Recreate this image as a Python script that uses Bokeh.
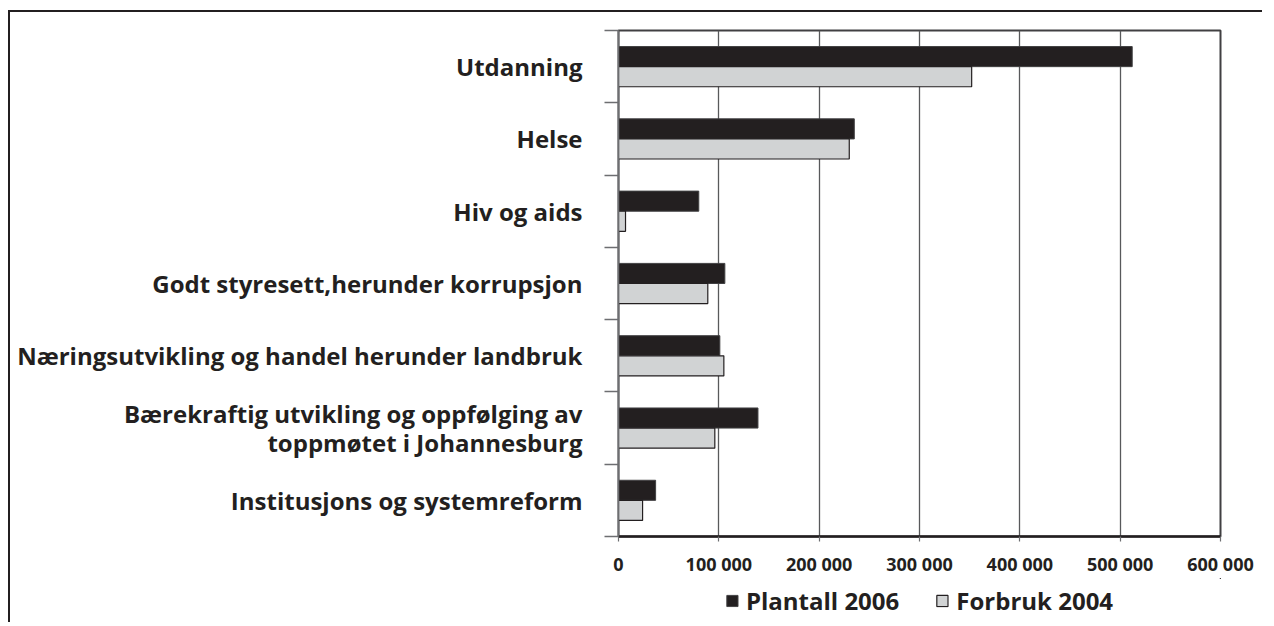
from bokeh.plotting import figure
from bokeh.layouts import column
from bokeh.models import Range1d, FixedTicker, Legend, LegendItem, ColumnDataSource
from bokeh.embed import file_html
from bokeh.resources import INLINE

categories = [
    "Utdanning",
    "Helse",
    "Hiv og aids",
    "Godt styresett,herunder korrupsjon",
    "Næringsutvikling og handel herunder landbruk",
    "Bærekraftig utvikling og oppfølging av\ntoppmøtet i Johannesburg",
    "Institusjons og systemreform",
]
plantall_2006 = [512000, 235000, 80000, 106000, 101000, 139000, 37000]
forbruk_2004 = [352000, 230000, 7000, 89000, 105000, 96000, 24000]
series_names = ["Plantall 2006", "Forbruk 2004"]
x_ticks = [0, 100000, 200000, 300000, 400000, 500000, 600000]
x_tick_labels = ["0", "100 000", "200 000", "300 000", "400 000", "500 000", "600 000"]

DARK = "#231f20"
LIGHT = "#d1d3d4"
GRID = "#58595b"
FONT = "Open Sans"

n = len(categories)
idx = list(range(n))

p = figure(frame_width=600, frame_height=504,
           output_backend="svg", toolbar_location=None,
           x_range=Range1d(0, 600000), y_range=Range1d(n, 0),
           min_border_left=608, min_border_right=44, min_border_top=18, min_border_bottom=44)

src = ColumnDataSource(dict(
    y1=[i + 0.361 for i in idx], y2=[i + 0.639 for i in idx],
    a=plantall_2006, b=forbruk_2004))

bar_styles = [dict(fill_color=DARK, line_color="#414042", line_width=1),
              dict(fill_color=LIGHT, line_color=DARK, line_width=1.2)]
bar_cols = [("y1", "a"), ("y2", "b")]

for (yc, xc), st in zip(bar_cols, bar_styles):
    p.hbar(y=yc, right=xc, left=0, height=0.278, source=src, **st)

# x axis
p.xaxis.ticker = FixedTicker(ticks=x_ticks)
p.xaxis.major_label_overrides = {t: l for t, l in zip(x_ticks, x_tick_labels)}
p.xaxis.major_label_text_font = FONT
p.xaxis.major_label_text_font_style = "bold"
p.xaxis.major_label_text_font_size = "18px"
p.xaxis.major_label_text_color = DARK
p.xaxis.axis_line_color = DARK
p.xaxis.axis_line_width = 2.5
p.xaxis.major_tick_line_color = "#6d6e71"
p.xaxis.major_tick_line_width = 1.2
p.xaxis.major_tick_out = 5
p.xaxis.major_tick_in = 0
p.xaxis.minor_tick_line_color = None
p.xaxis.major_label_standoff = 10

# y axis: labels at centres, ticks at boundaries
centers = [i + 0.5 for i in idx]
p.yaxis.ticker = FixedTicker(ticks=centers, minor_ticks=[float(i) for i in range(n + 1)])
p.yaxis.major_label_overrides = {c: lab for c, lab in zip(centers, categories)}
p.yaxis.major_tick_line_color = None
p.yaxis.major_tick_out = 0
p.yaxis.major_tick_in = 0
p.yaxis.minor_tick_line_color = "#6d6e71"
p.yaxis.minor_tick_out = 14
p.yaxis.minor_tick_in = 0
p.yaxis.minor_tick_line_width = 1.5
p.yaxis.axis_line_color = "#6d6e71"
p.yaxis.axis_line_width = 1.5
p.yaxis.major_label_text_font = FONT
p.yaxis.major_label_text_font_style = "bold"
p.yaxis.major_label_text_font_size = "24px"
p.yaxis.major_label_text_line_height = 0.88
p.yaxis.major_label_text_color = DARK
p.yaxis.major_label_standoff = 22

p.xgrid.grid_line_color = GRID
p.xgrid.grid_line_width = 1.3
p.ygrid.grid_line_color = None
p.outline_line_color = "#414042"
p.outline_line_width = 2

p.styles = {"border-top": "2px solid #231f20", "border-left": "2px solid #231f20",
            "margin-left": "8px", "margin-top": "10px"}

# legend strip below the chart: same series, far out of view, used only for the swatches
lf = figure(frame_width=600, frame_height=44, output_backend="svg", toolbar_location=None,
            x_range=Range1d(-3000000, -2000000), y_range=Range1d(-30, -20),
            min_border_left=608, min_border_right=44, min_border_top=0, min_border_bottom=0)
lf.axis.visible = False
lf.grid.grid_line_color = None
lf.outline_line_color = None
sw = [lf.hbar(y=yc, right=xc, left=0, height=0.278, source=src, **st)
      for (yc, xc), st in zip(bar_cols, bar_styles)]

legend = Legend(items=[LegendItem(label=nm, renderers=[r]) for nm, r in zip(series_names, sw)],
                orientation="horizontal", location="center",
                label_text_font=FONT, label_text_font_style="bold",
                label_text_font_size="24px", label_text_color=DARK,
                glyph_width=14, glyph_height=14, spacing=36, padding=0, margin=0,
                border_line_color=None, background_fill_alpha=0, label_standoff=7)
lf.add_layout(legend, "center")
lf.styles = {"border-left": "2px solid #231f20", "margin-left": "8px"}

layout = column(p, lf, spacing=0)
open("out.html", "w").write(file_html(layout, INLINE))
